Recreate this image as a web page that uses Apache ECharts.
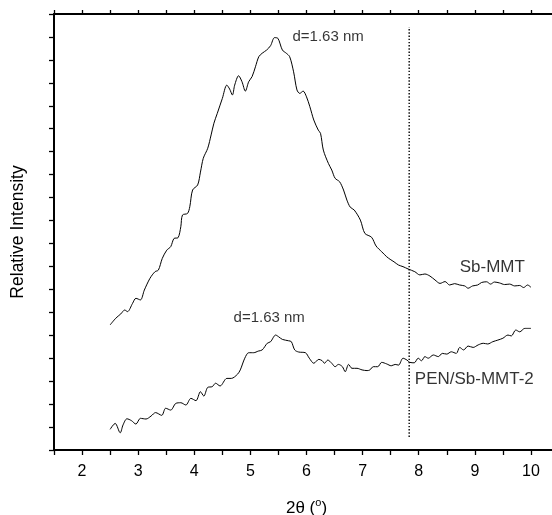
<!DOCTYPE html>
<html>
<head>
<meta charset="utf-8">
<script src="https://cdn.jsdelivr.net/npm/echarts@6/dist/echarts.min.js"></script>
<style>html,body{margin:0;padding:0;background:#fff}#c{width:552px;height:515px}</style>
</head>
<body>
<div id="c"></div>
<script>
// Sb-MMT (upper curve): [2theta, intensity]
var sbMMT = [
[2.50,5.45],[2.60,5.74],[2.69,5.93],[2.76,6.10],[2.81,6.03],[2.90,6.39],[2.96,6.61],[3.04,6.54],
[3.11,6.97],[3.21,7.48],[3.30,7.77],[3.36,7.84],[3.43,8.35],[3.51,8.71],[3.58,8.86],[3.64,9.22],
[3.71,9.25],[3.76,9.73],[3.79,10.24],[3.88,10.31],[3.92,10.60],[3.97,11.33],[4.06,11.55],[4.11,12.11],
[4.16,12.71],[4.24,13.15],[4.30,13.73],[4.35,14.24],[4.41,14.67],[4.50,15.32],[4.58,15.90],[4.63,15.73],
[4.68,15.47],[4.72,15.90],[4.79,16.31],[4.85,16.05],[4.91,15.64],[4.97,16.05],[5.03,16.27],[5.09,16.70],
[5.15,17.14],[5.21,17.29],[5.29,17.43],[5.36,17.62],[5.43,17.97],[5.49,17.94],[5.57,17.43],[5.64,17.29],
[5.70,17.14],[5.77,16.48],[5.83,15.69],[5.88,15.54],[5.94,15.64],[6.00,15.39],[6.06,14.96],[6.13,14.38],
[6.21,13.94],[6.25,13.80],[6.30,13.07],[6.39,12.49],[6.45,12.20],[6.51,11.84],[6.59,11.69],[6.66,11.33],
[6.72,10.89],[6.78,10.58],[6.85,10.46],[6.96,10.02],[7.04,9.44],[7.16,9.27],[7.24,8.89],[7.34,8.64],
[7.43,8.42],[7.49,8.31],[7.56,8.20],[7.64,8.06],[7.72,7.99],[7.81,7.89],[7.93,7.77],[8.02,7.63],
[8.11,7.67],[8.20,7.58],[8.29,7.41],[8.38,7.26],[8.47,7.34],[8.55,7.19],[8.64,7.25],[8.73,7.19],
[8.82,7.15],[8.88,7.05],[8.96,7.15],[9.05,7.19],[9.12,7.30],[9.21,7.33],[9.28,7.23],[9.35,7.32],
[9.44,7.28],[9.53,7.21],[9.62,7.23],[9.71,7.15],[9.80,7.17],[9.87,7.08],[9.94,7.19],[10.00,7.09]
];
// PEN/Sb-MMT-2 (lower curve)
var penSbMMT2 = [
[2.50,0.90],[2.59,1.16],[2.68,0.75],[2.73,1.09],[2.80,1.36],[2.88,1.28],[2.96,1.13],[3.04,1.38],
[3.14,1.35],[3.23,1.48],[3.31,1.63],[3.42,1.51],[3.49,1.82],[3.58,1.74],[3.67,2.03],[3.76,2.06],
[3.85,1.96],[3.94,2.25],[4.03,2.15],[4.11,2.54],[4.17,2.35],[4.24,2.73],[4.32,2.76],[4.38,2.91],
[4.46,2.79],[4.58,3.12],[4.66,3.12],[4.77,3.30],[4.82,3.49],[4.90,4.00],[4.97,4.24],[5.06,4.24],
[5.14,4.31],[5.21,4.36],[5.30,4.65],[5.36,4.72],[5.45,5.01],[5.50,4.94],[5.57,4.82],[5.68,4.76],
[5.73,4.72],[5.79,4.36],[5.86,4.27],[5.98,4.24],[6.05,4.00],[6.13,3.78],[6.22,3.95],[6.28,3.89],
[6.32,3.78],[6.38,3.92],[6.45,3.78],[6.51,3.63],[6.57,3.73],[6.64,3.63],[6.69,3.41],[6.75,3.73],
[6.81,3.56],[6.90,3.56],[6.99,3.49],[7.08,3.46],[7.13,3.49],[7.19,3.63],[7.27,3.63],[7.34,3.82],
[7.43,3.75],[7.51,3.67],[7.58,3.73],[7.64,3.70],[7.72,4.00],[7.79,3.92],[7.84,3.82],[7.92,3.80],
[7.99,4.00],[8.05,3.89],[8.11,4.07],[8.17,4.00],[8.26,4.14],[8.35,4.07],[8.42,4.21],[8.50,4.18],
[8.58,4.28],[8.67,4.21],[8.73,4.47],[8.80,4.36],[8.88,4.53],[8.97,4.47],[9.06,4.58],[9.15,4.65],
[9.23,4.62],[9.32,4.72],[9.41,4.79],[9.50,4.87],[9.59,5.01],[9.65,4.97],[9.73,5.23],[9.80,5.15],
[9.89,5.30],[10.00,5.30]
];
// Vertical reference line position and extent
var refLineX = 7.83;
var refLineY = [0.57, 18.43];
// Annotations: [x, y, text]
var peakLabels = [
  [5.75, 18.0, 'd=1.63 nm'],
  [4.70, 5.75, 'd=1.63 nm']
];
var curveLabels = [
  [8.73, 7.94, 'Sb-MMT'],
  [7.93, 3.08, 'PEN/Sb-MMT-2']
];
var xTickLabels = ['2','3','4','5','6','7','8','9','10'];
var xMin = 1.5, xMax = 10.5, yMin = 0, yMax = 19;

var FONT = 'Liberation Sans, Arial, sans-serif';
var chart = echarts.init(document.getElementById('c'));
var axisLineStyle = {color:'#000', width:2};
function labelSeries(arr, size){
  return {type:'scatter', symbolSize:0,
    data:arr.map(function(a){return {value:[a[0],a[1]], name:a[2]};}),
    label:{show:true, position:[0,0], align:'left', verticalAlign:'middle',
      formatter:function(p){return p.name;}, color:'#000', fontFamily:FONT, fontSize:size}};
}
chart.setOption({
  animation:false,
  backgroundColor:'#fff',
  grid:{left:54, top:14, right:-7, bottom:65, containLabel:false, outerBoundsMode:'none'},
  xAxis:[{
    type:'value', min:xMin, max:xMax, interval:0.5, position:'bottom',
    axisLine:{show:true, lineStyle:axisLineStyle, onZero:false},
    axisTick:{show:true, length:5, inside:false, lineStyle:{color:'#000', width:1.3}},
    splitLine:{show:false},
    axisLabel:{
      color:'#000', fontFamily:FONT, fontSize:16, margin:14,
      formatter:function(v){ var s=String(Math.round(v*10)/10); return xTickLabels.indexOf(s)>=0 ? s : ''; }
    },
    name:'{n|2θ (}{sup|o}{n|)}', nameLocation:'middle', nameGap:47,
    nameTextStyle:{color:'#000', fontFamily:FONT, fontSize:17, rich:{
      n:{fontSize:17, fontFamily:FONT, color:'#000'},
      sup:{fontSize:11, fontFamily:FONT, color:'#000', padding:[0,0,11,0]}}}
  },{
    type:'value', min:xMin, max:xMax, interval:0.5, position:'top',
    axisLine:{show:true, lineStyle:axisLineStyle, onZero:false},
    axisTick:{show:true, length:4, inside:false, lineStyle:{color:'#000', width:1.3}},
    axisLabel:{show:false}, splitLine:{show:false}
  }],
  yAxis:[{
    type:'value', min:yMin, max:yMax, interval:1,
    axisLine:{show:true, lineStyle:axisLineStyle, onZero:false},
    axisTick:{show:true, length:5, inside:false, lineStyle:{color:'#000', width:1.3}},
    axisLabel:{show:false}, splitLine:{show:false},
    name:'Relative Intensity', nameLocation:'middle', nameGap:27, nameRotate:90,
    nameTextStyle:{color:'#000', fontFamily:FONT, fontSize:17.5}
  }],
  series:[
    {type:'line', data:sbMMT, showSymbol:false, symbol:'none', smooth:0.3, lineStyle:{color:'#000', width:1}},
    {type:'line', data:penSbMMT2, showSymbol:false, symbol:'none', smooth:0.3, lineStyle:{color:'#000', width:1}},
    {type:'line', data:[[refLineX, refLineY[0]],[refLineX, refLineY[1]]], symbol:'none',
      lineStyle:{color:'#000', width:1.4, type:[1.4,1.8]}},
    labelSeries(peakLabels, 15),
    labelSeries(curveLabels, 17)
  ]
});
</script>
</body>
</html>
